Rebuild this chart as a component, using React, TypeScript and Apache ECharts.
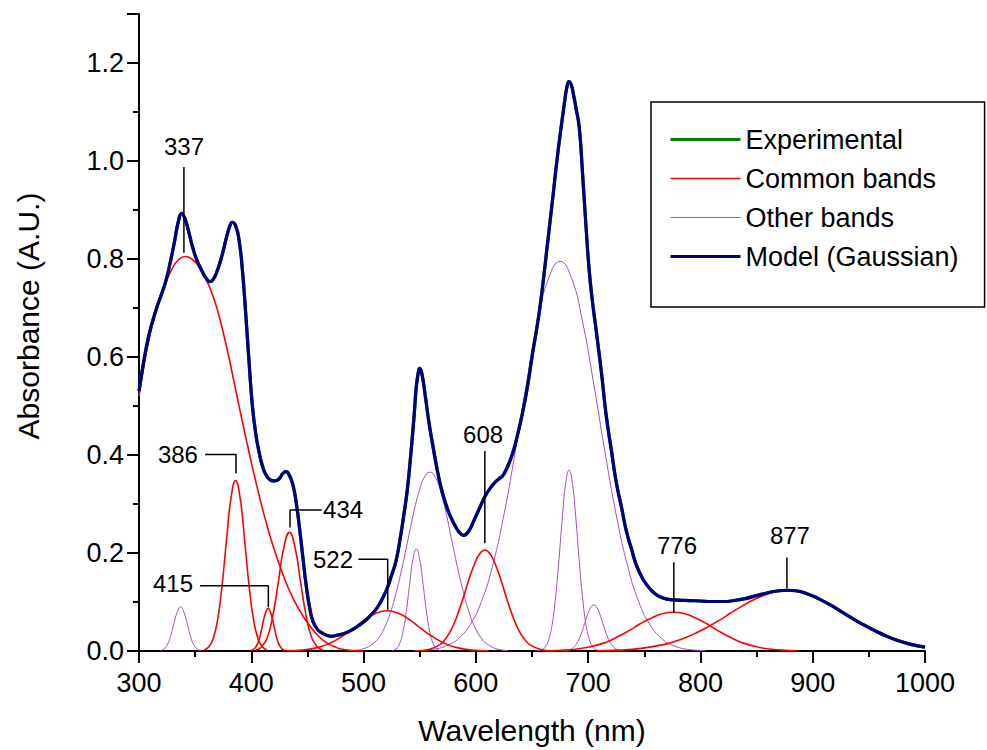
import React, { useEffect, useRef } from 'react';
import * as echarts from 'echarts';

const FONT = '"Liberation Sans", Arial, Helvetica, sans-serif';

// ---- Axis ranges / ticks ----
const xRange = [300, 1000];
const xStep = 100;
const yRange = [0, 1.3];
const yStep = 0.2;

// ---- Series data: [wavelength nm, absorbance] ----
const model: number[][] = [
  [300,0.53],[304,0.588],[308,0.636],[312,0.672],[316,0.702],[320,0.728],[324,0.756],[328,0.795],[332,0.84],[335,0.876],
  [338,0.893],[341,0.882],[344,0.858],[348,0.822],[352,0.795],[356,0.776],[360,0.76],[363,0.754],[366,0.758],[370,0.778],
  [374,0.808],[378,0.845],[381,0.868],[383,0.875],[386,0.868],[389,0.84],[392,0.78],[395,0.69],[398,0.59],[401,0.5],
  [404,0.443],[407,0.405],[410,0.377],[413,0.36],[417,0.349],[421,0.347],[425,0.352],[428,0.362],[431,0.366],[434,0.358],
  [437,0.34],[440,0.303],[443,0.25],[446,0.19],[449,0.132],[452,0.088],[455,0.06],[459,0.044],[463,0.037],[467,0.032],
  [471,0.03],[478,0.033],[485,0.038],[492,0.046],[500,0.059],[506,0.072],[512,0.088],[517,0.108],[521,0.128],[525,0.155],
  [529,0.185],[533,0.235],[536,0.28],[539,0.33],[542,0.4],[545,0.48],[547,0.54],[549,0.572],[550,0.577],[552,0.565],
  [555,0.52],[558,0.47],[562,0.415],[566,0.365],[570,0.325],[575,0.288],[580,0.262],[585,0.243],[589,0.236],[594,0.246],
  [598,0.265],[603,0.29],[608,0.315],[613,0.333],[617,0.344],[621,0.352],[624,0.358],[628,0.375],[633,0.405],[637,0.44],
  [641,0.48],[646,0.54],[650,0.6],[654,0.655],[657,0.7],[660,0.755],[663,0.815],[666,0.875],[669,0.935],[672,0.997],
  [676,1.07],[679,1.12],[681,1.15],[683,1.162],[685,1.155],[687,1.135],[689,1.11],[692,1.07],[695,0.975],[698,0.87],
  [701,0.775],[704,0.71],[707,0.657],[712,0.565],[716,0.482],[721,0.405],[725,0.345],[730,0.29],[734,0.245],[739,0.205],
  [743,0.175],[749,0.146],[755,0.127],[762,0.113],[770,0.106],[780,0.104],[790,0.103],[800,0.102],[810,0.101],[820,0.101],
  [830,0.103],[840,0.107],[850,0.113],[860,0.119],[870,0.123],[877,0.124],[885,0.123],[895,0.117],[905,0.107],[915,0.095],
  [925,0.081],[935,0.067],[945,0.054],[955,0.042],[965,0.031],[975,0.022],[985,0.015],[995,0.01],[1000,0.008]
];

const experimental: number[][] = model;

// Common bands (red)
const common337: number[][] = [
  [300,0.52],[305,0.59],[310,0.648],[315,0.695],[320,0.73],[325,0.758],[330,0.782],[335,0.798],[341,0.805],[347,0.8],
  [353,0.786],[360,0.757],[365,0.73],[370,0.695],[375,0.65],[380,0.6],[385,0.545],[390,0.49],[395,0.437],[400,0.385],
  [405,0.336],[410,0.29],[415,0.248],[420,0.21],[425,0.176],[430,0.145],[435,0.118],[440,0.095],[445,0.075],[450,0.058],
  [455,0.043],[460,0.03],[465,0.02],[470,0.013],[475,0.008],[480,0.004],[490,0.001],[500,0]
];
const common386: number[][] = [
  [358,0.002],[362,0.008],[366,0.025],[370,0.064],[374,0.134],[378,0.228],[382,0.313],[386,0.348],[390,0.313],[394,0.228],
  [398,0.134],[402,0.064],[406,0.025],[410,0.008],[414,0.002]
];
const common415: number[][] = [
  [400,0.001],[403,0.005],[406,0.017],[409,0.042],[412,0.073],[415,0.087],[418,0.073],[421,0.042],[424,0.017],[427,0.005],[430,0.001]
];
const common434: number[][] = [
  [404,0.002],[409,0.008],[414,0.026],[419,0.07],[424,0.139],[429,0.211],[434,0.242],[439,0.211],[444,0.139],[449,0.07],
  [454,0.026],[459,0.008],[464,0.002]
];
const common522: number[][] = [
  [431,0.0005],[446,0.002],[461,0.008],[471,0.017],[481,0.03],[491,0.046],[501,0.064],[511,0.077],[521,0.082],[531,0.077],
  [541,0.064],[551,0.046],[561,0.03],[571,0.017],[581,0.008],[596,0.002],[611,0.0005]
];
const common608: number[][] = [
  [548,0.0004],[558,0.003],[568,0.013],[573,0.025],[578,0.043],[583,0.07],[588,0.103],[593,0.14],[598,0.173],[603,0.197],
  [608,0.206],[613,0.197],[618,0.173],[623,0.14],[628,0.103],[633,0.07],[638,0.043],[643,0.025],[648,0.013],[658,0.003],[668,0.0004]
];
const common776: number[][] = [
  [666,0.0006],[686,0.003],[701,0.008],[716,0.018],[726,0.0285],[736,0.041],[746,0.055],[756,0.067],[766,0.076],[776,0.079],
  [786,0.076],[796,0.067],[806,0.055],[816,0.041],[826,0.0285],[836,0.018],[851,0.008],[866,0.003],[886,0.0006]
];
const common877: number[][] = [
  [707,0.0006],[727,0.0019],[747,0.0054],[767,0.013],[777,0.0194],[787,0.0275],[797,0.0377],[807,0.0497],[817,0.063],[827,0.0775],
  [837,0.0915],[847,0.104],[857,0.114],[867,0.121],[877,0.123],[887,0.121],[897,0.114],[907,0.104],[917,0.0915],[927,0.0775],
  [937,0.063],[947,0.0497],[957,0.0377],[967,0.0275],[977,0.0194],[987,0.013],[1000,0.0075]
];

// Other bands (purple)
const other337: number[][] = [
  [319,0.001],[322,0.004],[325,0.012],[328,0.029],[331,0.055],[334,0.079],[337,0.09],[340,0.079],[343,0.055],[346,0.029],
  [349,0.012],[352,0.004],[355,0.001]
];
const other547: number[][] = [
  [525,0.0007],[529,0.0045],[532,0.0145],[535,0.038],[538,0.08],[541,0.136],[544,0.187],[547,0.208],[550,0.187],[553,0.136],
  [556,0.08],[559,0.038],[562,0.0145],[565,0.0045],[569,0.0007]
];
const other559: number[][] = [
  [489,0.0008],[499,0.004],[509,0.016],[514,0.029],[519,0.049],[524,0.079],[529,0.119],[534,0.167],[539,0.221],[544,0.276],
  [549,0.322],[554,0.354],[559,0.365],[564,0.354],[569,0.322],[574,0.276],[579,0.221],[584,0.167],[589,0.119],[594,0.079],
  [599,0.049],[604,0.029],[609,0.016],[619,0.004],[629,0.0008]
];
const other675: number[][] = [
  [545,0.0007],[560,0.003],[575,0.012],[585,0.0265],[595,0.054],[605,0.101],[615,0.175],[625,0.278],[635,0.406],[645,0.545],
  [655,0.672],[665,0.762],[675,0.795],[685,0.762],[695,0.672],[705,0.545],[715,0.406],[725,0.278],[735,0.175],[745,0.101],
  [755,0.054],[765,0.0265],[775,0.012],[790,0.003],[805,0.0007]
];
const other683: number[][] = [
  [653,0.0002],[658,0.0019],[662,0.009],[665,0.024],[668,0.055],[671,0.11],[674,0.186],[677,0.272],[680,0.342],[683,0.369],
  [686,0.342],[689,0.272],[692,0.186],[695,0.11],[698,0.055],[701,0.024],[704,0.009],[708,0.0019],[713,0.0002]
];
const other705: number[][] = [
  [678,0.0003],[683,0.0021],[687,0.0075],[690,0.016],[693,0.0305],[696,0.05],[699,0.071],[702,0.088],[705,0.094],[708,0.088],
  [711,0.071],[714,0.05],[717,0.0305],[720,0.016],[723,0.0075],[727,0.0021],[732,0.0003]
];

const commonBands = [common337, common386, common415, common434, common522, common608, common776, common877];
const otherBands = [other337, other547, other559, other675, other683, other705];

// Peak annotations (data coordinates)
const annotationNames = ['337', '386', '415', '434', '522', '608', '776', '877'];
const annotationAnchors: number[][] = [
  [340.1, 1.029], [352.5, 0.401], [348.1, 0.137], [463.9, 0.289],
  [490.6, 0.187], [606.4, 0.442], [779.1, 0.215], [879.7, 0.235]
];
const annotationAligns = ['center', 'right', 'right', 'left', 'right', 'center', 'center', 'center'];
const leaderLines: number[][][] = [
  [[340, 0.988], [340, 0.813]],
  [[358.8, 0.401], [386.4, 0.401], [386.4, 0.363]],
  [[354.3, 0.133], [415.2, 0.133], [415.2, 0.09]],
  [[462.7, 0.288], [434.5, 0.288], [434.5, 0.252]],
  [[495.3, 0.187], [521.5, 0.187], [521.5, 0.084]],
  [[608, 0.408], [608, 0.22]],
  [[776.3, 0.181], [776.3, 0.079]],
  [[877, 0.191], [877, 0.128]]
];

const legendNames = ['Experimental', 'Common bands', 'Other bands', 'Model (Gaussian)'];

const RED = '#ff0000';
const PURPLE = '#a64dbd';
const GREEN = '#008000';
const NAVY = '#000080';

export default function App() {
  const ref = useRef<HTMLDivElement>(null);

  useEffect(() => {
    if (!ref.current) return;
    const chart = echarts.init(ref.current, null, { renderer: 'svg' });

    const lineBase = {
      type: 'line',
      smooth: true,
      symbol: 'none',
      showSymbol: false,
      silent: true,
      emphasis: { disabled: true },
    };

    const series: any[] = [];
    otherBands.forEach((d) => {
      series.push({ ...lineBase, name: legendNames[2], data: d, z: 2, lineStyle: { color: PURPLE, width: 1 }, itemStyle: { color: PURPLE } });
    });
    commonBands.forEach((d) => {
      series.push({ ...lineBase, name: legendNames[1], data: d, z: 3, lineStyle: { color: RED, width: 1.6 }, itemStyle: { color: RED } });
    });
    series.push({ ...lineBase, name: legendNames[0], data: experimental, z: 4, lineStyle: { color: GREEN, width: 3.2 }, itemStyle: { color: GREEN } });
    series.push({ ...lineBase, name: legendNames[3], data: model, z: 5, lineStyle: { color: NAVY, width: 3.2 }, itemStyle: { color: NAVY } });

    leaderLines.forEach((d) => {
      series.push({
        type: 'line', data: d, smooth: false, symbol: 'none', silent: true, z: 6,
        lineStyle: { color: '#000', width: 1.5 }, emphasis: { disabled: true },
      });
    });

    const axisCommon = {
      type: 'value',
      axisLine: { show: true, onZero: false, lineStyle: { color: '#000', width: 2 } },
      axisTick: { show: true, inside: false, length: 12, lineStyle: { color: '#000', width: 2 } },
      minorTick: { show: true, splitNumber: 2, length: 6, lineStyle: { color: '#000', width: 2 } },
      splitLine: { show: false },
      minorSplitLine: { show: false },
    };

    const legendWidths = [3, 1.5, 1, 3];

    chart.setOption({
      animation: false,
      backgroundColor: '#ffffff',
      grid: { left: 139, right: 62, top: 14, bottom: 98, containLabel: false },
      xAxis: {
        ...axisCommon,
        min: xRange[0],
        max: xRange[1],
        interval: xStep,
        axisLabel: {
          color: '#000', fontSize: 27, fontFamily: FONT, margin: 18,
          formatter: (v: number) => String(v),
        },
        name: 'Wavelength (nm)',
        nameLocation: 'middle',
        nameGap: 64,
        nameTextStyle: { color: '#000', fontSize: 30, fontFamily: FONT },
      },
      yAxis: {
        ...axisCommon,
        min: yRange[0],
        max: yRange[1],
        interval: yStep,
        axisLabel: {
          color: '#000', fontSize: 27, fontFamily: FONT, margin: 15, showMaxLabel: false,
          formatter: (v: number) => v.toFixed(1),
        },
      },
      legend: {
        data: legendNames.map((n, i) => ({ name: n, lineStyle: { width: legendWidths[i] } })),
        orient: 'vertical',
        left: 651,
        top: 102,
        padding: [24, 26, 37, 18],
        itemWidth: 70,
        itemHeight: 26,
        itemGap: 12,
        borderColor: '#000',
        borderWidth: 1.5,
        borderRadius: 0,
        backgroundColor: '#fff',
        selectedMode: false,
        itemStyle: { opacity: 0 },
        textStyle: { color: '#000', fontSize: 27, fontFamily: FONT },
      },
      graphic: [
        {
          type: 'text',
          x: 28,
          y: 316,
          rotation: Math.PI / 2,
          style: {
            text: 'Absorbance (A.U.)',
            font: `30px ${FONT}`,
            fill: '#000',
            align: 'center',
            verticalAlign: 'middle',
          },
        },
      ],
      series,
    });

    // Peak labels placed through the chart's own scales
    const labelGraphics = annotationNames.map((n, i) => {
      const p = chart.convertToPixel({ gridIndex: 0 }, annotationAnchors[i]) as number[];
      return {
        type: 'text',
        x: p[0],
        y: p[1],
        z: 100,
        silent: true,
        style: {
          text: n,
          font: `24px ${FONT}`,
          fill: '#000',
          align: annotationAligns[i],
          verticalAlign: 'middle',
        },
      };
    });
    chart.setOption({
      graphic: [
        {
          type: 'text',
          x: 28,
          y: 316,
          rotation: Math.PI / 2,
          style: {
            text: 'Absorbance (A.U.)',
            font: `30px ${FONT}`,
            fill: '#000',
            align: 'center',
            verticalAlign: 'middle',
          },
        },
        ...labelGraphics,
      ],
    });

    return () => chart.dispose();
  }, []);

  return (
    <div
      ref={ref}
      style={{ position: 'absolute', left: 0, top: 0, width: 987, height: 750, background: '#fff' }}
    />
  );
}
